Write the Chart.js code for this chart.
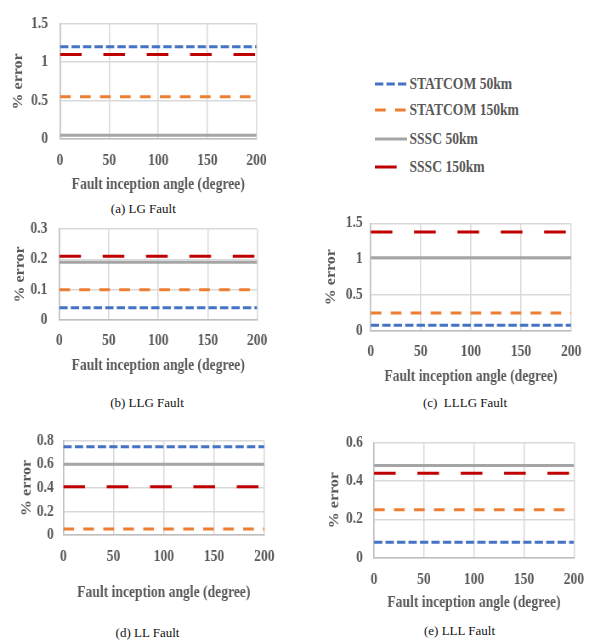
<!DOCTYPE html>
<html>
<head>
<meta charset="utf-8">
<script src="https://cdn.jsdelivr.net/npm/chart.js@4.4.1/dist/chart.umd.min.js"></script>
<style>
  body { margin: 0; background: #fff; }
  #page { position: relative; width: 599px; height: 640px; overflow: hidden; font-family: "Liberation Serif", "Times New Roman", serif; }
  .plot { position: absolute; transform-origin: 0 0; }
  .caption { position: absolute; font-size: 13px; color: #111; white-space: pre; line-height: 1; transform: translate(-50%, -50%); }
  #legend { position: absolute; left: 375px; top: 70px; width: 200px; height: 120px; transform-origin: 0 0; }
  .item { position: absolute; left: 0; display: flex; align-items: center; height: 20px; }
  .item span { font-weight: bold; font-size: 16px; color: #595959; line-height: 1; white-space: nowrap; }
</style>
</head>
<body>
<div id="page"></div>
<script>
// data
const angles = [0, 50, 100, 150, 200];
const seriesNames = ['STATCOM 50km', 'STATCOM 150km', 'SSSC 50km', 'SSSC 150km'];
const captions = ['(a) LG Fault', '(b) LLG Fault', '(c)  LLLG Fault', '(d) LL Fault', '(e) LLL Fault'];

// rows: STATCOM 50km, STATCOM 150km, SSSC 50km, SSSC 150km
const lgValues = [
    [1.2, 1.2, 1.2, 1.2, 1.2],
    [0.55, 0.55, 0.55, 0.55, 0.55],
    [0.05, 0.05, 0.05, 0.05, 0.05],
    [1.1, 1.1, 1.1, 1.1, 1.1]
];
const llgValues = [
    [0.04, 0.04, 0.04, 0.04, 0.04],
    [0.1, 0.1, 0.1, 0.1, 0.1],
    [0.19, 0.19, 0.19, 0.19, 0.19],
    [0.21, 0.21, 0.21, 0.21, 0.21]
];
const lllgValues = [
    [0.08, 0.08, 0.08, 0.08, 0.08],
    [0.25, 0.25, 0.25, 0.25, 0.25],
    [1.02, 1.02, 1.02, 1.02, 1.02],
    [1.38, 1.38, 1.38, 1.38, 1.38]
];
const llValues = [
    [0.75, 0.75, 0.75, 0.75, 0.75],
    [0.05, 0.05, 0.05, 0.05, 0.05],
    [0.6, 0.6, 0.6, 0.6, 0.6],
    [0.41, 0.41, 0.41, 0.41, 0.41]
];
const lllValues = [
    [0.08, 0.08, 0.08, 0.08, 0.08],
    [0.25, 0.25, 0.25, 0.25, 0.25],
    [0.48, 0.48, 0.48, 0.48, 0.48],
    [0.44, 0.44, 0.44, 0.44, 0.44]
];
const faultValues = [lgValues, llgValues, lllgValues, llValues, lllValues];
const yMax = [1.5, 0.3, 1.5, 0.8, 0.6];
const yStep = [0.5, 0.1, 0.5, 0.2, 0.2];

// the excel pictures are squeezed horizontally
const S = 0.85;
const FONT = '"Liberation Serif", "Times New Roman", serif';
const TEXT = '#595959';

const styles = [
    { color: '#4472C4', dash: [9.8, 3.7] },
    { color: '#ED7D31', dash: [12.6, 10.9] },
    { color: '#A5A5A5', dash: [] },
    { color: '#C00000', dash: [25.5, 25.5] }
];

// plot boxes in page pixels
const boxes = [
    { x0: 0, y0: 0, left: 60, right: 261, top: 14, bottom: 139, yTitleX: 19, yTickGap: 12, xTickY: 160.8, xTitleY: 185 },
    { x0: 0, y0: 200, left: 59.3, right: 261, top: 229, bottom: 320, yTitleX: 20, yTickGap: 12, xTickY: 341, xTitleY: 365.6 },
    { x0: 300, y0: 200, left: 370.7, right: 575, top: 223.3, bottom: 331, yTitleX: 331.7, yTickGap: 8, xTickY: 351.7, xTitleY: 376.7 },
    { x0: 0, y0: 420, left: 63.3, right: 269.3, top: 433.6, bottom: 535, yTitleX: 26.7, yTickGap: 9.5, xTickY: 556.7, xTitleY: 593.3 },
    { x0: 300, y0: 420, left: 374, right: 579.3, top: 440.2, bottom: 557.7, yTitleX: 335, yTickGap: 11, xTickY: 580, xTitleY: 603.3 }
];
const captionPos = [[143.3, 208], [147, 402], [465, 401.5], [147.5, 632], [459.5, 629.5]];

const page = document.getElementById('page');
const charts = [];

function makeChart(i) {
    const b = boxes[i];
    const plotRight = (b.right - b.x0) / S;
    const W = Math.ceil(plotRight + 18);
    const H = Math.round(b.xTitleY - b.y0 + 14);
    const yWidth = (b.left - b.x0) / S;
    const xHeight = H - (b.bottom - b.y0);

    const wrap = document.createElement('div');
    wrap.className = 'plot';
    wrap.style.left = b.x0 + 'px';
    wrap.style.top = b.y0 + 'px';
    wrap.style.width = W + 'px';
    wrap.style.height = H + 'px';
    wrap.style.transform = `scaleX(${S})`;
    const canvas = document.createElement('canvas');
    wrap.appendChild(canvas);
    page.appendChild(wrap);

    const values = faultValues[i];
    return new Chart(canvas, {
        type: 'line',
        data: {
            datasets: seriesNames.map((name, k) => ({
                label: name,
                data: angles.map((a, j) => ({ x: a, y: values[k][j] })),
                borderColor: styles[k].color,
                borderDash: styles[k].dash,
                borderWidth: 3,
                borderCapStyle: 'butt',
                pointRadius: 0,
                tension: 0,
                order: seriesNames.length - k
            }))
        },
        options: {
            responsive: true,
            maintainAspectRatio: false,
            animation: false,
            events: [],
            layout: {
                padding: { left: 0, top: b.top - b.y0, right: W - plotRight, bottom: 0 }
            },
            plugins: {
                legend: { display: false },
                tooltip: { enabled: false }
            },
            scales: {
                x: {
                    type: 'linear',
                    min: 0,
                    max: 200,
                    ticks: {
                        stepSize: 50,
                        padding: b.xTickY - b.bottom - 9.6,
                        color: TEXT,
                        font: { family: FONT, size: 16, weight: 'bold' },
                        maxRotation: 0
                    },
                    grid: { color: '#d9d9d9', lineWidth: 1.5, drawTicks: false },
                    border: { color: '#bfbfbf', width: 1.5 },
                    title: {
                        display: true,
                        text: 'Fault inception angle (degree)',
                        color: TEXT,
                        font: { family: FONT, size: 16, weight: 'bold' },
                        padding: { top: 0, bottom: H - (b.xTitleY - b.y0) - 9.6 }
                    },
                    afterFit: s => { s.height = xHeight; }
                },
                y: {
                    min: 0,
                    max: yMax[i],
                    ticks: {
                        stepSize: yStep[i],
                        padding: b.yTickGap / S,
                        color: TEXT,
                        font: { family: FONT, size: 16, weight: 'bold' },
                        callback: v => String(Number(v.toFixed(2)))
                    },
                    grid: { color: '#d9d9d9', lineWidth: 1.5, drawTicks: false },
                    border: { color: '#bfbfbf', width: 1.5 },
                    title: {
                        display: true,
                        text: '% error',
                        color: TEXT,
                        font: { family: FONT, size: 16, weight: 'bold' },
                        padding: { top: (b.yTitleX - b.x0) / S - 9.6, bottom: 0 }
                    },
                    afterFit: s => { s.width = yWidth; }
                }
            }
        }
    });
}

for (let i = 0; i < boxes.length; i++) {
    charts.push(makeChart(i));
    const c = document.createElement('div');
    c.className = 'caption';
    c.textContent = captions[i];
    c.style.left = captionPos[i][0] + 'px';
    c.style.top = captionPos[i][1] + 'px';
    page.appendChild(c);
}

// legend, built from the datasets of the first chart
const legendRows = [84, 110, 139, 167.3];
const legend = document.createElement('div');
legend.id = 'legend';
legend.style.transform = `scaleX(${S})`;
page.appendChild(legend);
charts[0].data.datasets.forEach((ds, k) => {
    const row = document.createElement('div');
    row.className = 'item';
    row.style.top = (legendRows[k] - 70 - 10) + 'px';
    const sw = 32 / S;
    const svgNS = 'http://www.w3.org/2000/svg';
    const svg = document.createElementNS(svgNS, 'svg');
    svg.setAttribute('width', sw);
    svg.setAttribute('height', 10);
    const line = document.createElementNS(svgNS, 'line');
    line.setAttribute('x1', 0);
    line.setAttribute('x2', sw);
    line.setAttribute('y1', 5);
    line.setAttribute('y2', 5);
    line.setAttribute('stroke', ds.borderColor);
    line.setAttribute('stroke-width', 3);
    if (ds.borderDash.length) line.setAttribute('stroke-dasharray', ds.borderDash.join(' '));
    svg.appendChild(line);
    row.appendChild(svg);
    const span = document.createElement('span');
    span.textContent = ds.label;
    span.style.marginLeft = (2.5 / S) + 'px';
    row.appendChild(span);
    legend.appendChild(row);
});
</script>
</body>
</html>
